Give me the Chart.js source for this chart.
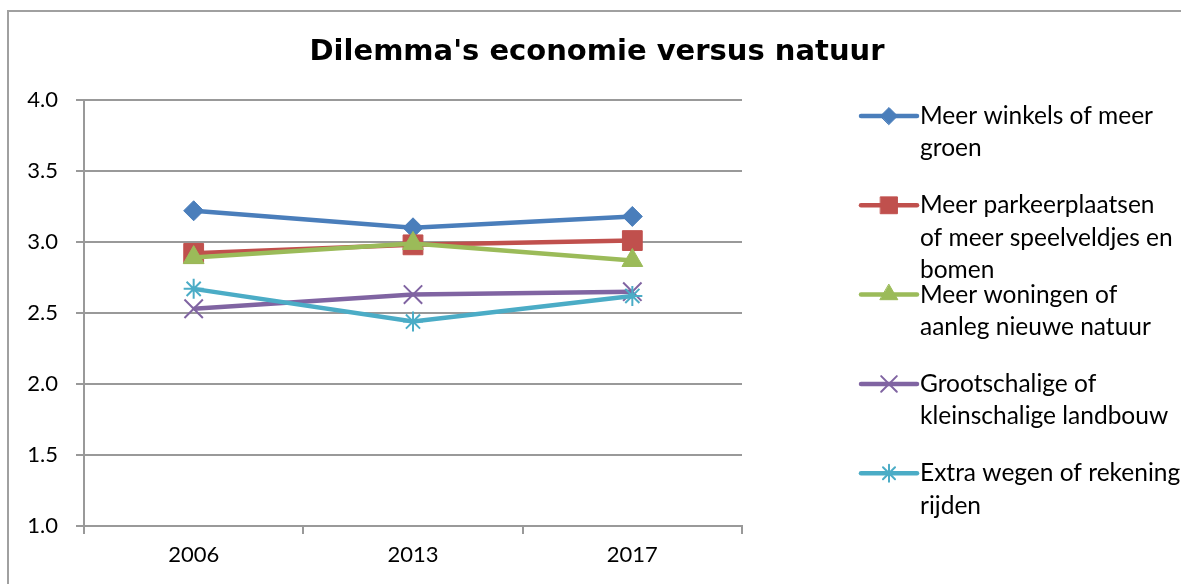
<!DOCTYPE html>
<html>
<head>
<meta charset="utf-8">
<title>Dilemma's economie versus natuur</title>
<script src="https://cdn.jsdelivr.net/npm/chart.js@4/dist/chart.umd.min.js"></script>
<style>
  html, body { margin: 0; padding: 0; background: #fff; overflow: hidden; }
  #wrap { position: relative; width: 1181px; height: 584px; }
  #frame {
    position: absolute; left: 7px; top: 10px; width: 1200px; height: 600px;
    border: 2px solid #a0a0a0; pointer-events: none;
  }
</style>
</head>
<body>
<div id="wrap">
  <canvas id="chart"></canvas>
  <div id="frame"></div>
</div>
<script>
// --- data ---
const years = ['2006', '2013', '2017'];

const winkelsGroen = [3.22, 3.10, 3.18];
const parkeerSpeel = [2.92, 2.98, 3.01];
const woningenNatuur = [2.89, 2.99, 2.87];
const landbouw = [2.53, 2.63, 2.65];
const wegenRekening = [2.67, 2.44, 2.62];

const legendLines = [
  ['Meer winkels of meer', 'groen'],
  ['Meer parkeerplaatsen', 'of meer speelveldjes en', 'bomen'],
  ['Meer woningen of', 'aanleg nieuwe natuur'],
  ['Grootschalige of', 'kleinschalige landbouw'],
  ['Extra wegen of rekening', 'rijden'],
];

const yTicks = [1.0, 1.5, 2.0, 2.5, 3.0, 3.5, 4.0];

const titleText = "Dilemma's economie versus natuur";

// --- styling ---
const gridGray = '#999999';
const tickFont = { family: 'Lato, sans-serif', size: 22 };

const series = [
  { data: winkelsGroen, color: '#4a7ebb', style: 'rectRot', radius: 10 },
  { data: parkeerSpeel, color: '#c0504d', style: 'rect', radius: 14 },
  { data: woningenNatuur, color: '#9bbb59', style: 'triangle', radius: 12 },
  { data: landbouw, color: '#8064a2', style: 'crossRot', radius: 13 },
  { data: wegenRekening, color: '#4bacc6', style: 'star', radius: 10 },
];

const datasets = series.map((s, i) => ({
  label: legendLines[i].join(' '),
  data: s.data,
  borderColor: s.color,
  backgroundColor: s.color,
  borderWidth: 4.5,
  pointStyle: s.style,
  pointRadius: s.radius,
  pointHoverRadius: s.radius,
  pointBackgroundColor: s.color,
  pointBorderColor: s.color,
  pointBorderWidth: (s.style === 'crossRot' || s.style === 'star') ? 2 : 1,
  tension: 0,
  order: series.length - i,
}));

// title + legend drawn by hand so the legend can wrap like Excel
const excelDecor = {
  id: 'excelDecor',
  afterDraw(chart) {
    const ctx = chart.ctx;
    ctx.save();
    ctx.fillStyle = '#000';
    ctx.textAlign = 'center';
    ctx.textBaseline = 'middle';
    ctx.font = "bold 29px 'DejaVu Sans', sans-serif";
    ctx.fillText(titleText, 597, 52);

    const x0 = 861, x1 = 917, tx = 920;
    ctx.font = '24.5px Lato, sans-serif';
    ctx.textAlign = 'left';
    chart.data.datasets.forEach((ds, i) => {
      const y = 116 + i * 89.3;
      ctx.strokeStyle = ds.borderColor;
      ctx.lineWidth = 4.5;
      ctx.lineCap = 'round';
      ctx.beginPath();
      ctx.moveTo(x0, y);
      ctx.lineTo(x1, y);
      ctx.stroke();
      ctx.fillStyle = ds.pointBackgroundColor;
      ctx.strokeStyle = ds.pointBorderColor;
      ctx.lineWidth = ds.pointBorderWidth;
      Chart.helpers.drawPoint(ctx, {
        pointStyle: ds.pointStyle,
        radius: ds.pointRadius * 0.85,
        rotation: 0,
        borderWidth: ds.pointBorderWidth,
      }, (x0 + x1) / 2, y);
      ctx.fillStyle = '#000';
      legendLines[i].forEach((line, j) => {
        ctx.fillText(line, tx, y + j * 32.5);
      });
    });
    ctx.restore();
  }
};

new Chart(document.getElementById('chart'), {
  type: 'line',
  data: { labels: years, datasets },
  plugins: [excelDecor],
  options: {
    responsive: true,
    maintainAspectRatio: false,
    animation: false,
    layout: { padding: { top: 100, right: 439, bottom: 0, left: 0 } },
    plugins: {
      legend: { display: false },
      title: { display: false },
      tooltip: { enabled: false },
    },
    scales: {
      x: {
        offset: true,
        afterFit(scale) { scale.height = 58; },
        grid: {
          display: true,
          drawOnChartArea: false,
          offset: true,
          color: gridGray,
          lineWidth: 2,
          tickLength: 8,
        },
        border: { display: true, color: gridGray, width: 2 },
        ticks: { font: tickFont, color: '#000', padding: 8, maxRotation: 0 },
      },
      y: {
        min: 1,
        max: 4,
        afterFit(scale) { scale.width = 84; },
        afterBuildTicks(scale) { scale.ticks = yTicks.map(v => ({ value: v })); },
        grid: { color: gridGray, lineWidth: 2, tickLength: 8 },
        border: { display: true, color: gridGray, width: 2 },
        ticks: {
          font: tickFont,
          color: '#000',
          padding: 18,
          callback: v => Number(v).toFixed(1),
        },
      },
    },
  },
});
</script>
</body>
</html>
